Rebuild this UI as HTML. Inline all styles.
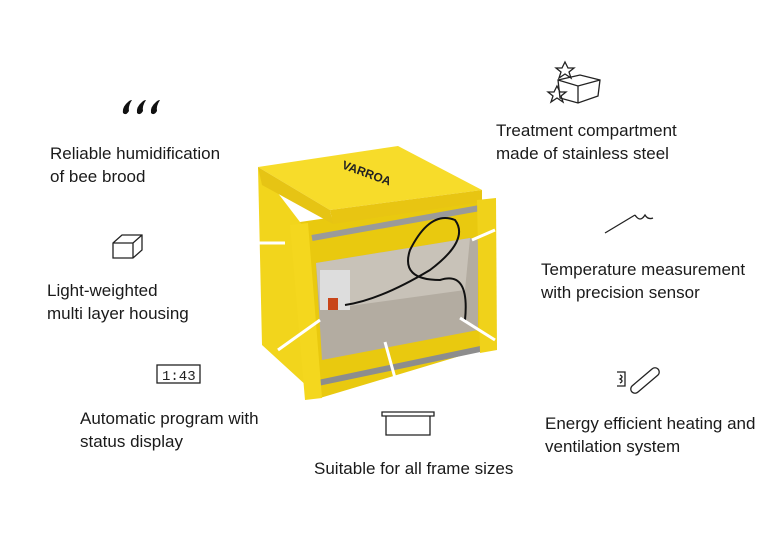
<!DOCTYPE html>
<html><head><meta charset="utf-8"><style>
body{margin:0;background:#fff;}
.c{position:relative;width:768px;height:541px;overflow:hidden;font-family:"Liberation Sans",sans-serif;color:#1a1a1a;}
.t{position:absolute;font-size:17px;line-height:23px;}
svg{position:absolute;left:0;top:0;}
</style></head><body><div class="c">
<svg width="768" height="541" viewBox="0 0 768 541">
<polygon points="258,167 300,222 320,398 262,345" fill="#f2d51c"/>
<polygon points="300,222 480,196 480,350 320,398" fill="#e9c90f"/>
<polygon points="258,167 398,146 482,190 330,210" fill="#f7dc2a"/>
<polygon points="330,210 482,190 482,202 333,224" fill="#e8c512"/>
<polygon points="258,167 330,210 333,224 262,185" fill="#e6c414"/>
<polygon points="316,263 470,238 478,240 478,330 322,360" fill="#b3aca1"/>
<polygon points="316,263 470,238 465,290 320,310" fill="#c8c2b8"/>
<line x1="312" y1="238" x2="480" y2="208" stroke="#9a9a9a" stroke-width="6"/>
<line x1="318" y1="383" x2="485" y2="348" stroke="#8d8d8d" stroke-width="6"/>
<polygon points="290,225 308,223 322,398 305,400" fill="#f4d71e"/>
<polygon points="477,200 496,198 497,350 480,353" fill="#f0d21a"/>
<rect x="320" y="270" width="30" height="40" fill="#ddd" />
<rect x="328" y="298" width="10" height="12" fill="#c8451a"/>
<path d="M345,305 Q380,300 430,270 Q470,240 455,220 Q430,210 410,250 Q400,280 440,280 Q470,270 465,320" fill="none" stroke="#111" stroke-width="2"/>
<text x="340" y="175" font-size="12" font-weight="bold" fill="#222" transform="rotate(20 360 175)">VARROA</text>
<g stroke="#fff" stroke-width="3">
<line x1="255" y1="243" x2="285" y2="243"/><line x1="472" y1="240" x2="495" y2="230"/>
<line x1="278" y1="350" x2="320" y2="320"/><line x1="385" y1="342" x2="395" y2="378"/>
<line x1="460" y1="318" x2="495" y2="340"/>
</g>
<g fill="#111">
<path d="M128,102 q-6,5 -5,11 q3,3 6,-2 q-1,-5 3,-11 q-2,0 -4,2z"/>
<path d="M142,102 q-6,5 -5,11 q3,3 6,-2 q-1,-5 3,-11 q-2,0 -4,2z"/>
<path d="M156,102 q-6,5 -5,11 q3,3 6,-2 q-1,-5 3,-11 q-2,0 -4,2z"/>
</g>
<g fill="none" stroke="#222" stroke-width="1.3">
<path d="M113,243 L122,235 L142,235 L142,250 L133,258 L113,258 Z M113,243 L133,243 L142,235 M133,243 L133,258"/>
<rect x="157" y="365" width="43" height="18"/>
<text x="162" y="380" font-size="14" fill="#222" stroke="none" font-family="Liberation Mono">1:43</text>
<path d="M382,412 L434,412 L434,416 L382,416 Z M386,416 L386,435 L430,435 L430,416"/>
<path d="M558,80 L580,75 L600,80 L598,96 L578,103 L560,98 Z M558,80 L578,86 L600,80 M578,86 L578,103"/>
<path d="M565,62 l3,6 6,0 -5,4 2,6 -6,-4 -6,4 2,-6 -5,-4 6,0z"/>
<path d="M557,86 l3,6 6,0 -5,4 2,6 -6,-4 -6,4 2,-6 -5,-4 6,0z"/>
<path d="M605,233 L635,215 M635,215 q5,8 10,0 q3,5 8,3"/>
<path d="M617,372 h8 v14 h-8 M620,375 q4,2 0,4 q4,2 0,4"/>
<path d="M632,386 l20,-17 a4,4 0 0 1 6,6 l-20,17 a4,4 0 0 1 -6,-6z"/>
</g>
</svg>
<div class="t" style="left:50px;top:142px">Reliable humidification<br>of bee brood</div>
<div class="t" style="left:47px;top:279px">Light-weighted<br>multi layer housing</div>
<div class="t" style="left:80px;top:407px">Automatic program with<br>status display</div>
<div class="t" style="left:314px;top:457px">Suitable for all frame sizes</div>
<div class="t" style="left:496px;top:119px">Treatment compartment<br>made of stainless steel</div>
<div class="t" style="left:541px;top:258px">Temperature measurement<br>with precision sensor</div>
<div class="t" style="left:545px;top:412px">Energy efficient heating and<br>ventilation system</div>
</div></body></html>
